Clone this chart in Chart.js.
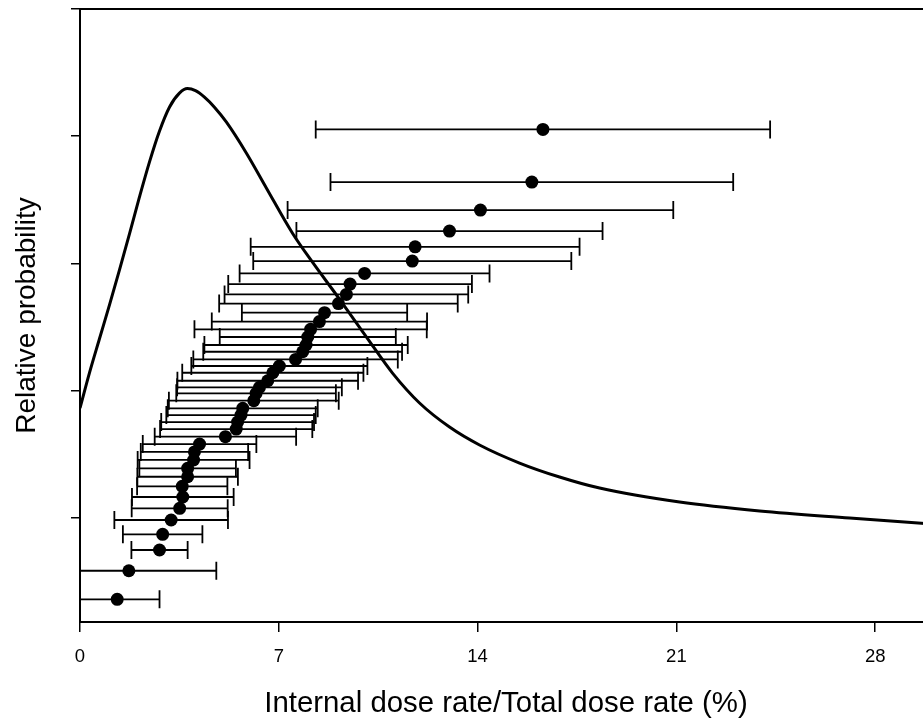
<!DOCTYPE html>
<html><head><meta charset="utf-8">
<script src="https://cdn.jsdelivr.net/npm/chart.js@4/dist/chart.umd.min.js"></script>
<style>
html,body{margin:0;padding:0;background:#fff;overflow:hidden;width:923px;height:722px}
#wrap{position:relative;width:923px;height:722px;overflow:hidden}
canvas{display:block}
</style></head>
<body><div id="wrap"><canvas id="c" width="932" height="722" style="width:932px;height:722px"></canvas></div>
<script>
const xTickValues = [0, 7, 14, 21, 28];
const yTickValues = [1, 2, 3, 4, 5];
const rowPosition = [4.053,3.639,3.419,3.254,3.130,3.018,2.921,2.837,2.756,2.684,2.612,2.542,2.481,2.421,2.358,2.305,2.245,2.193,2.140,2.077,2.025,1.978,1.920,1.860,1.807,1.752,1.697,1.637,1.579,1.517,1.454,1.388,1.322,1.247,1.163,1.074,0.982,0.869,0.746,0.583,0.358];
const ratioMean = [16.30,15.91,14.10,13.01,11.80,11.70,10.02,9.51,9.38,9.10,8.61,8.43,8.12,8.02,7.96,7.84,7.59,7.02,6.79,6.61,6.32,6.20,6.12,5.73,5.67,5.55,5.50,5.12,4.21,4.03,4.00,3.79,3.79,3.60,3.62,3.51,3.21,2.91,2.80,1.72,1.31];
const ratioError = [8.00,7.09,6.79,5.39,5.79,5.60,4.40,4.29,4.29,4.20,2.91,3.79,4.09,3.10,3.58,3.50,3.60,3.10,3.19,3.18,2.90,2.81,2.99,2.64,2.63,2.69,2.68,2.49,2.00,1.89,1.97,1.70,1.77,1.59,1.79,1.69,2.00,1.40,0.99,3.08,1.49];
const curveX = [0.000,0.331,0.683,1.036,1.388,1.740,2.092,2.445,2.797,3.149,3.501,3.783,4.065,4.382,4.734,5.157,5.861,6.566,7.482,8.186,9.137,10.088,11.004,11.955,13.012,14.068,15.477,16.886,18.295,21.113,23.931,27.101,29.990];
const curveY = [1.862,2.137,2.405,2.672,2.947,3.230,3.520,3.796,4.039,4.228,4.338,4.374,4.358,4.307,4.228,4.110,3.866,3.591,3.237,3.009,2.719,2.420,2.137,1.902,1.713,1.572,1.430,1.320,1.233,1.123,1.053,0.998,0.951];

const FONT = "'Liberation Sans', Arial, sans-serif";

const errorBarPlugin = {
  id: 'errorBars',
  beforeDatasetsDraw(chart) {
    const {ctx, chartArea, scales} = chart;
    const xs = scales.x, ys = scales.y;
    ctx.save();
    ctx.beginPath();
    ctx.rect(chartArea.left, chartArea.top, chartArea.right - chartArea.left, chartArea.bottom - chartArea.top);
    ctx.clip();
    ctx.strokeStyle = '#000';
    ctx.lineWidth = 1.8;
    const cap = 9;
    rowPosition.forEach((r, i) => {
      const py = ys.getPixelForValue(r);
      const x0 = xs.getPixelForValue(ratioMean[i] - ratioError[i]);
      const x1 = xs.getPixelForValue(ratioMean[i] + ratioError[i]);
      ctx.beginPath();
      ctx.moveTo(x0, py); ctx.lineTo(x1, py);
      ctx.moveTo(x0, py - cap); ctx.lineTo(x0, py + cap);
      ctx.moveTo(x1, py - cap); ctx.lineTo(x1, py + cap);
      ctx.stroke();
    });
    ctx.restore();
  }
};

const curveData = curveX.map((v, i) => ({x: v, y: curveY[i]}));
const pointData = ratioMean.map((v, i) => ({x: v, y: rowPosition[i]}));

new Chart(document.getElementById('c'), {
  type: 'scatter',
  data: {
    datasets: [
      {data: curveData, showLine: true, borderColor: '#000', borderWidth: 3, pointRadius: 0,
       cubicInterpolationMode: 'monotone', fill: false, order: 2},
      {data: pointData, backgroundColor: '#000', borderColor: '#000', borderWidth: 0, pointRadius: 6.5, order: 1}
    ]
  },
  options: {
    responsive: false, animation: false, devicePixelRatio: 1,
    layout: {padding: 0, autoPadding: false},
    plugins: {legend: {display: false}, tooltip: {enabled: false}},
    scales: {
      x: {
        type: 'linear', position: 'bottom', min: 0, max: 30,
        afterBuildTicks: s => { s.ticks = xTickValues.map(v => ({value: v})); },
        afterFit: s => { s.height = 100; s.paddingLeft = 0; s.paddingRight = 0; },
        grid: {drawOnChartArea: false, drawTicks: true, tickLength: 10, color: '#000', lineWidth: 1.5},
        border: {display: true, color: '#000', width: 2},
        ticks: {color: '#000', font: {family: FONT, size: 18.5}, padding: 13.5, maxRotation: 0, autoSkip: false, callback: v => String(v)},
        title: {display: true, text: 'Internal dose rate/Total dose rate (%)', color: '#000',
                font: {family: FONT, size: 29.4}, padding: {top: 0, bottom: 0}}
      },
      xTop: {
        type: 'linear', position: 'top', min: 0, max: 30, display: true,
        afterFit: s => { s.height = 9; s.paddingLeft = 0; s.paddingRight = 0; },
        grid: {display: false},
        border: {display: true, color: '#000', width: 2},
        ticks: {display: false}
      },
      y: {
        type: 'linear', position: 'left', min: 0.18, max: 5,
        afterBuildTicks: s => { s.ticks = yTickValues.map(v => ({value: v})); },
        afterFit: s => { s.width = 80; },
        grid: {drawOnChartArea: false, drawTicks: true, tickLength: 9, color: '#000', lineWidth: 1.5},
        border: {display: true, color: '#000', width: 2},
        ticks: {display: false},
        title: {display: true, text: 'Relative probability', color: '#000',
                font: {family: FONT, size: 28}, padding: {top: 10, bottom: 0}}
      }
    }
  },
  plugins: [errorBarPlugin]
});
</script>
</body></html>
